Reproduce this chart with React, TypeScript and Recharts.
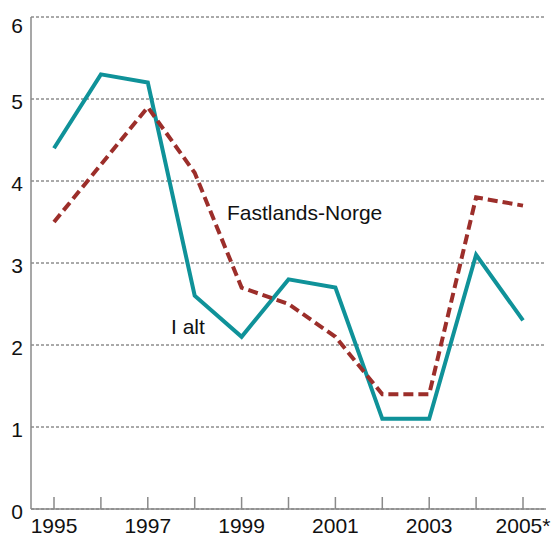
import { LineChart, Line, XAxis, YAxis, CartesianGrid } from "recharts";

const years = ["1995", "1996", "1997", "1998", "1999", "2000", "2001", "2002", "2003", "2004", "2005*"];
const iAlt = [4.4, 5.3, 5.2, 2.6, 2.1, 2.8, 2.7, 1.1, 1.1, 3.1, 2.3];
const fastlandsNorge = [3.5, 4.2, 4.9, 4.1, 2.7, 2.5, 2.1, 1.4, 1.4, 3.8, 3.7];
const yTicks = [0, 1, 2, 3, 4, 5, 6];

const data = years.map((year, i) => ({
  year,
  iAlt: iAlt[i],
  fastlandsNorge: fastlandsNorge[i],
}));

const FONT = "'Liberation Sans', Arial, sans-serif";

function XTick(props: any) {
  const { x, y, payload, index } = props;
  return (
    <g>
      <line x1={x} x2={x} y1={y - 12} y2={y} stroke="#8a8a8a" strokeWidth={1.5} />
      {index % 2 === 0 && (
        <text x={x} y={y + 24} textAnchor="middle" fontSize={21} fontFamily={FONT} fill="#111">
          {payload.value}
        </text>
      )}
    </g>
  );
}

function YTick(props: any) {
  const { x, y, payload } = props;
  const off = payload.value === 6 ? 16 : 10;
  return (
    <text x={x} y={y + off} textAnchor="end" fontSize={21} fontFamily={FONT} fill="#111">
      {payload.value}
    </text>
  );
}

export default function App() {
  return (
    <div style={{ position: "absolute", left: 0, top: 0 }}>
      <LineChart width={555} height={540} data={data} margin={{ top: 17, right: 9, bottom: 0, left: 0 }}>
        <CartesianGrid vertical={false} stroke="#555" strokeDasharray="3 2" strokeWidth={1} />
        <XAxis
          dataKey="year"
          interval={0}
          height={31}
          padding={{ left: 23, right: 23 }}
          tickSize={0}
          tickMargin={0}
          tickLine={false}
          axisLine={{ stroke: "#8a8a8a", strokeWidth: 1.5 }}
          tick={<XTick />}
        />
        <YAxis
          domain={[0, 6]}
          ticks={yTicks}
          width={31}
          tickSize={0}
          tickMargin={8}
          tickLine={false}
          axisLine={{ stroke: "#8a8a8a", strokeWidth: 1.5 }}
          tick={<YTick />}
        />
        <Line
          dataKey="iAlt"
          stroke="#0f9299"
          strokeWidth={4}
          dot={false}
          isAnimationActive={false}
        />
        <Line
          dataKey="fastlandsNorge"
          stroke="#9c2e2a"
          strokeWidth={4}
          strokeDasharray="10 5"
          dot={false}
          isAnimationActive={false}
        />
        <text x={227} y={220} fontSize={21} fontFamily={FONT} fill="#111">
          Fastlands-Norge
        </text>
        <text x={171} y={334} fontSize={21} fontFamily={FONT} fill="#111">
          I alt
        </text>
      </LineChart>
    </div>
  );
}
